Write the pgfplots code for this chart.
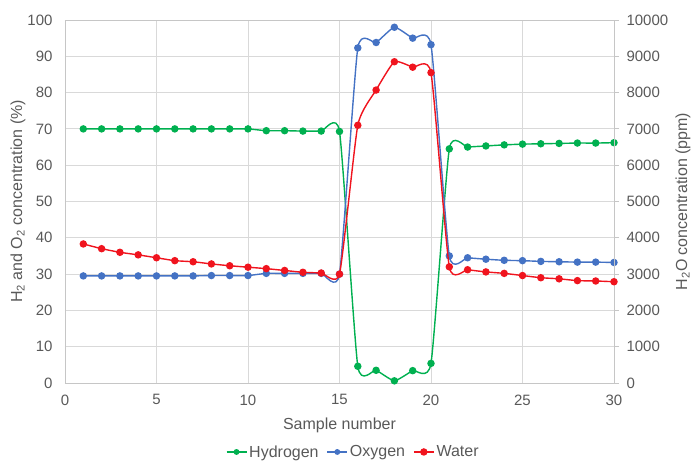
\documentclass[border=0pt]{standalone}
\usepackage{fontspec}
\setmainfont{Liberation Sans}
\usepackage{pgfplots}
\pgfplotsset{compat=1.18}

\definecolor{hgreen}{RGB}{0,176,80}
\definecolor{oblue}{RGB}{68,114,196}
\definecolor{wred}{RGB}{240,20,30}
\definecolor{txtgray}{RGB}{89,89,89}
\definecolor{gridgray}{RGB}{217,217,217}

\pgfplotsset{
    common/.style={
        at={(0,0)}, anchor=south west,
        scale only axis, width=549pt, height=363pt,
        xmin=0, xmax=30,
        /pgf/number format/assume math mode=true,
        /pgf/number format/1000 sep={},
        tick label style={font=\fontsize{15}{18}\selectfont, text=txtgray},
        label style={font=\fontsize{16}{19}\selectfont, text=txtgray},
    },
    series/.style={line width=1.4pt, smooth, tension=0.3, mark=*, mark size=3pt},
}

\begin{document}
\begin{tikzpicture}[x=1pt,y=1pt]
\path[use as bounding box] (-65,-79) rectangle (626,383);

\begin{axis}[
    common,
    ymin=0, ymax=100,
    xtick={0,5,...,30},
    ytick={0,10,...,100},
    grid=major,
    grid style={gridgray, line width=0.8pt},
    axis line style={gray!45, line width=0.8pt},
    major tick length=0pt,
    xticklabel style={yshift=-8pt},
    yticklabel style={xshift=-9pt},
    xlabel={Sample number},
    ylabel={H\textsubscript{2} and O\textsubscript{2} concentration (\%)},
    x label style={at={(axis description cs:0.5,-0.116)}, anchor=center},
    y label style={at={(axis description cs:-0.0856,0.5)}, anchor=center},
]
% Hydrogen (%)
\addplot[series, color=hgreen] coordinates {
    (1,70.0) (2,70.0) (3,70.0) (4,70.0) (5,70.0) (6,70.0) (7,70.0) (8,70.0) (9,70.0) (10,70.0)
    (11,69.5) (12,69.5) (13,69.4) (14,69.4) (15,69.3)
    (16,4.6) (17,3.5) (18,0.6) (19,3.4) (20,5.4)
    (21,64.5) (22,65.0) (23,65.3) (24,65.6) (25,65.8) (26,65.9) (27,66.0) (28,66.1) (29,66.1) (30,66.2)
};
% Oxygen (%)
\addplot[series, color=oblue] coordinates {
    (1,29.5) (2,29.5) (3,29.5) (4,29.5) (5,29.5) (6,29.5) (7,29.5) (8,29.6) (9,29.6) (10,29.6)
    (11,30.2) (12,30.2) (13,30.2) (14,30.2) (15,30.0)
    (16,92.3) (17,93.8) (18,98.0) (19,95.0) (20,93.2)
    (21,35.0) (22,34.5) (23,34.1) (24,33.8) (25,33.7) (26,33.5) (27,33.4) (28,33.3) (29,33.3) (30,33.2)
};
\end{axis}

\begin{axis}[
    common,
    ymin=0, ymax=10000,
    ytick={0,1000,...,10000},
    scaled y ticks=false,
    axis x line=none,
    axis y line*=right,
    axis line style={gray!45, line width=0.8pt},
    y tick style={gray!45, line width=0.8pt},
    tick align=outside,
    major tick length=5pt,
    yticklabel style={xshift=4pt},
    ylabel={H\textsubscript{2}O concentration (ppm)},
    y label style={at={(axis description cs:1.1257,0.5)}, anchor=center},
    legend style={at={(0.525,-0.19)}, anchor=center, draw=none, fill=none,
        legend columns=3, font=\fontsize{16}{19}\selectfont, text=txtgray,
        /tikz/every even column/.append style={column sep=6pt},
        inner sep=0pt},
    legend cell align=left,
    legend image code/.code={
        \draw[mark repeat=2, mark phase=2] plot coordinates {(0pt,0pt) (10pt,0pt) (20pt,0pt)};
    },
]
\addlegendimage{line width=1.4pt, color=hgreen, mark=*, mark size=2.2pt}
\addlegendentry{Hydrogen}
\addlegendimage{line width=1.4pt, color=oblue, mark=*, mark size=2.2pt}
\addlegendentry{Oxygen}
% Water (ppm)
\addplot[series, color=wred] coordinates {
    (1,3830) (2,3700) (3,3600) (4,3530) (5,3450) (6,3370) (7,3340) (8,3280) (9,3230) (10,3190)
    (11,3150) (12,3100) (13,3050) (14,3030) (15,3000)
    (16,7100) (17,8070) (18,8850) (19,8700) (20,8550)
    (21,3200) (22,3120) (23,3060) (24,3020) (25,2960) (26,2900) (27,2870) (28,2820) (29,2810) (30,2790)
};
\addlegendentry{Water}
\end{axis}
\end{tikzpicture}
\end{document}
